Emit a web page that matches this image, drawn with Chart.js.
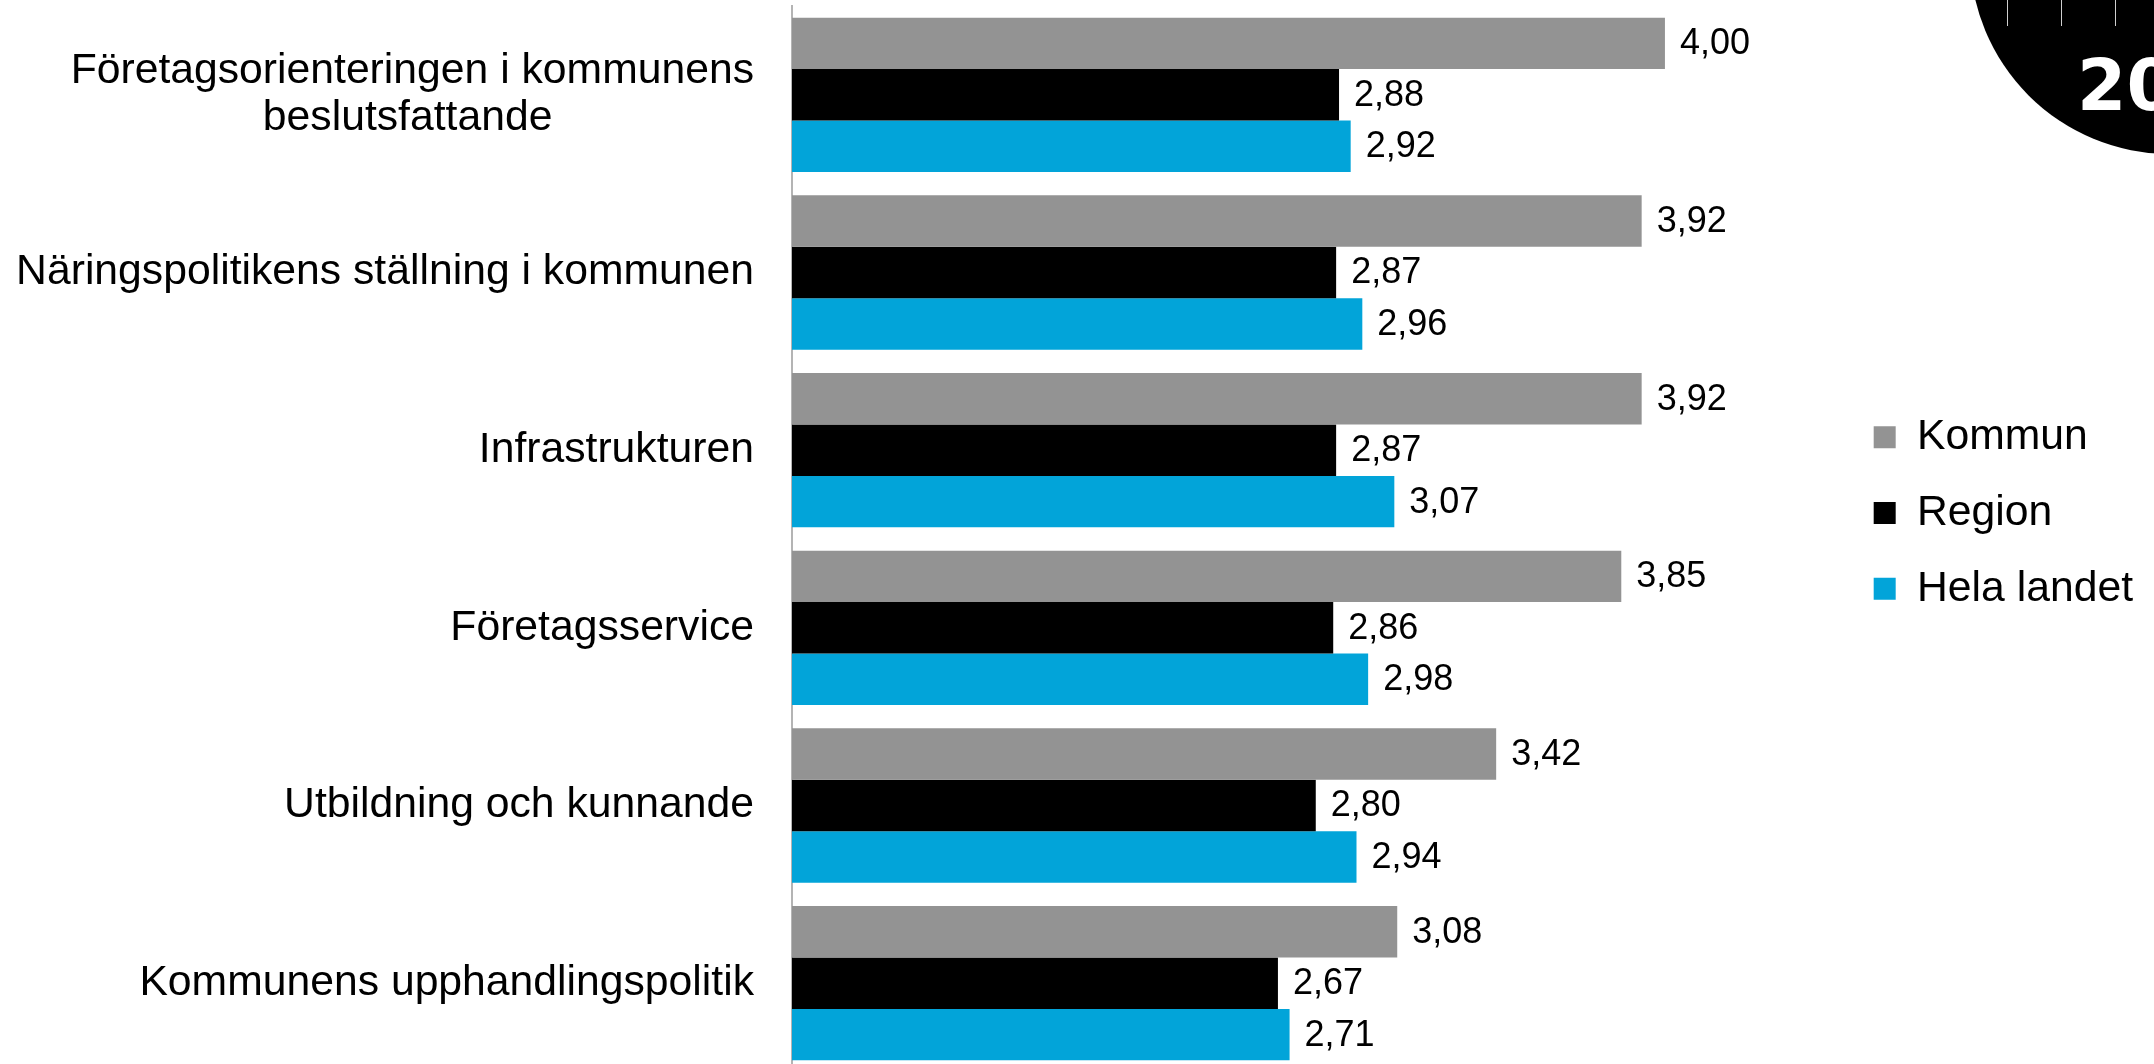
<!DOCTYPE html>
<html>
<head>
<meta charset="utf-8">
<script src="https://cdn.jsdelivr.net/npm/chart.js@4.4.1/dist/chart.umd.min.js"></script>
<style>
  html, body { margin: 0; padding: 0; background: #ffffff; overflow: hidden; width: 2154px; height: 1064px; }
  #wrap { position: relative; width: 2154px; height: 1064px; overflow: hidden; }
  #c { position: absolute; left: 0; top: 0; }
  #badge { position: absolute; left: 1970px; top: -246px; width: 400px; height: 400px; border-radius: 50%; background: #000; z-index: 2; }
  .tk { position: absolute; top: 0; width: 1px; height: 26px; background: #cfcfcf; z-index: 3; }
  #yr { position: absolute; left: 2077px; top: 50px; font: bold 71px 'DejaVu Sans', sans-serif; line-height: 1; color: #fff; z-index: 3; white-space: nowrap; }
</style>
</head>
<body>
<div id="wrap">
  <canvas id="c" width="2154" height="1072"></canvas>
  <div id="badge"></div>
  <div class="tk" style="left:2007px"></div>
  <div class="tk" style="left:2061px"></div>
  <div class="tk" style="left:2115px"></div>
  <div id="yr">20</div>
</div>
<script>
const categories = [
  ['Företagsorienteringen i kommunens', 'beslutsfattande'],
  'Näringspolitikens ställning i kommunen',
  'Infrastrukturen',
  'Företagsservice',
  'Utbildning och kunnande',
  'Kommunens upphandlingspolitik'
];
const seriesNames = ['Kommun', 'Region', 'Hela landet'];
const kommun = [4.00, 3.92, 3.92, 3.85, 3.42, 3.08];
const region = [2.88, 2.87, 2.87, 2.86, 2.80, 2.67];
const helaLandet = [2.92, 2.96, 3.07, 2.98, 2.94, 2.71];
const seriesColors = ['#939393', '#000000', '#02A4D9'];

const FONT = "'Liberation Sans', Arial, Helvetica, sans-serif";
const LABEL_SIZE = 42.7;
Chart.defaults.font.family = FONT;
Chart.defaults.color = '#000';

const measureCtx = document.createElement('canvas').getContext('2d');
measureCtx.font = LABEL_SIZE + 'px ' + FONT;
function centerLines(lbl) {
  if (!Array.isArray(lbl)) return lbl;
  const widths = lbl.map(s => measureCtx.measureText(s).width);
  const maxW = Math.max(...widths);
  const sp = measureCtx.measureText(' ').width;
  return lbl.map((s, i) => s + ' '.repeat(Math.max(0, Math.round((maxW - widths[i]) / 2 / sp))));
}

const valueLabels = {
  id: 'valueLabels',
  afterDatasetsDraw(chart) {
    const ctx = chart.ctx;
    ctx.save();
    ctx.font = '36px ' + FONT;
    ctx.fillStyle = '#000';
    ctx.textAlign = 'left';
    ctx.textBaseline = 'middle';
    chart.data.datasets.forEach((ds, di) => {
      const meta = chart.getDatasetMeta(di);
      meta.data.forEach((bar, i) => {
        ctx.fillText(ds.data[i].toFixed(2).replace('.', ','), bar.x + 15, bar.y + 1);
      });
    });
    ctx.restore();
  }
};

new Chart(document.getElementById('c'), {
  type: 'bar',
  data: {
    labels: categories,
    datasets: [
      { label: seriesNames[0], data: kommun, backgroundColor: seriesColors[0] },
      { label: seriesNames[1], data: region, backgroundColor: seriesColors[1] },
      { label: seriesNames[2], data: helaLandet, backgroundColor: seriesColors[2] }
    ]
  },
  options: {
    indexAxis: 'y',
    responsive: false,
    animation: false,
    devicePixelRatio: 1,
    layout: { padding: { top: 6, right: 11, bottom: 0, left: 0 } },
    datasets: { bar: { categoryPercentage: 0.869, barPercentage: 1.0, borderWidth: 0 } },
    scales: {
      x: { display: false, min: 1, max: 4.604 },
      y: {
        grid: { display: false, drawTicks: false },
        border: { display: true, color: '#b4b4b4', width: 2 },
        ticks: {
          padding: 38,
          font: { size: LABEL_SIZE, lineHeight: 1.1 },
          color: '#000',
          autoSkip: false,
          callback: function (v) { return centerLines(this.getLabelForValue(v)); }
        },
        afterFit: function (s) { s.width = 792; s.paddingTop = 0; s.paddingBottom = 0; }
      }
    },
    plugins: {
      legend: {
        position: 'right',
        align: 'start',
        title: { display: true, text: '', font: { size: 10 }, padding: { top: 365, bottom: 0 } },
        labels: {
          font: { size: LABEL_SIZE },
          color: '#000',
          boxWidth: 22,
          boxHeight: 22,
          padding: 33
        }
      },
      tooltip: { enabled: false }
    }
  },
  plugins: [valueLabels]
});
</script>
</body>
</html>
